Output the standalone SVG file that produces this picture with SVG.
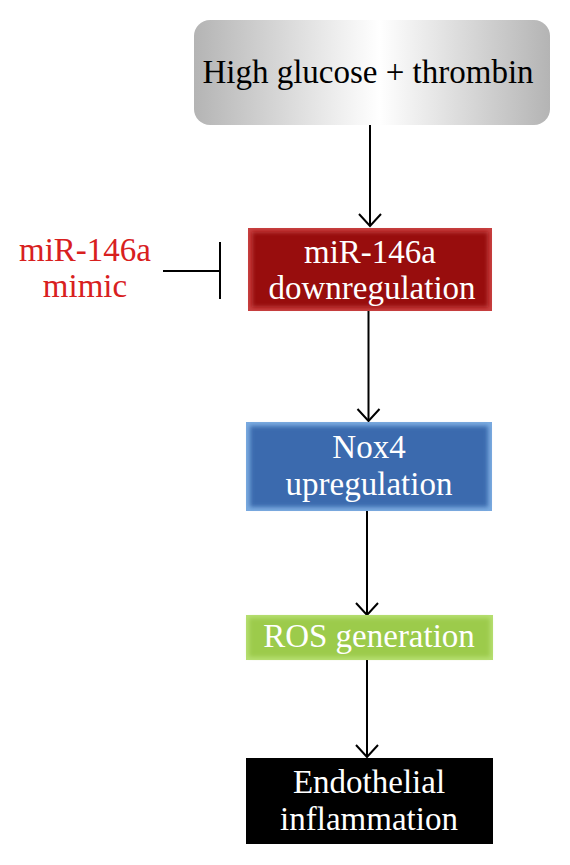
<svg xmlns="http://www.w3.org/2000/svg" width="570" height="865" viewBox="0 0 570 865">
<defs>
<linearGradient id="gray" x1="0" y1="0" x2="1" y2="0">
<stop offset="0" stop-color="#b4b4b4"/>
<stop offset="0.52" stop-color="#ffffff"/>
<stop offset="1" stop-color="#b4b4b4"/>
</linearGradient>
<filter id="soft" x="-5%" y="-10%" width="110%" height="120%"><feGaussianBlur stdDeviation="2"/></filter>
<marker id="v" markerUnits="userSpaceOnUse" markerWidth="16" markerHeight="26" refX="14" refY="13" orient="auto" viewBox="0 0 16 26">
<path d="M2,2 L14,13 L2,24" fill="none" stroke="#000" stroke-width="2"/>
</marker>
</defs>
<style>
.t{font-family:"Liberation Serif","Times New Roman",serif;font-size:33px;text-anchor:middle}
.w{fill:#ffffff}
.k{fill:#000000}
.r{fill:#d8201e}
.c{stroke:#000;stroke-width:2;fill:none}
</style>
<rect width="570" height="865" fill="#ffffff"/>
<g id="connectors">
<line class="c" x1="370" y1="125" x2="370" y2="226" marker-end="url(#v)"/>
<line class="c" x1="368.5" y1="311" x2="368.5" y2="421" marker-end="url(#v)"/>
<line class="c" x1="367" y1="511" x2="367" y2="615" marker-end="url(#v)"/>
<line class="c" x1="367" y1="660" x2="367" y2="757" marker-end="url(#v)"/>
<line class="c" x1="163" y1="271" x2="220" y2="271"/>
<line class="c" x1="220" y1="242" x2="220" y2="299"/>
</g>
<g id="node-top">
<rect x="194" y="20" width="356" height="105" rx="16" fill="url(#gray)"/>
<text class="t k" x="368" y="83">High glucose + thrombin</text>
</g>
<g id="node-mimic">
<text class="t r" x="85" y="261">miR-146a</text>
<text class="t r" x="85" y="297">mimic</text>
</g>
<g id="node-mir">
<rect x="248" y="228" width="244" height="83" fill="#c84040"/>
<rect x="252" y="232" width="236" height="75" fill="#980808" filter="url(#soft)"/>
<text class="t w" x="370" y="263">miR-146a</text>
<text class="t w" x="372" y="299">downregulation</text>
</g>
<g id="node-nox">
<rect x="246" y="422" width="246" height="89" fill="#7aaae0"/>
<rect x="250" y="426" width="238" height="81" fill="#3a6aae" filter="url(#soft)"/>
<text class="t w" x="369" y="458">Nox4</text>
<text class="t w" x="369" y="495">upregulation</text>
</g>
<g id="node-ros">
<rect x="246" y="615" width="247" height="45" fill="#b6df72"/>
<rect x="249" y="618" width="241" height="39" fill="#9ccb4c" filter="url(#soft)"/>
<text class="t w" x="369" y="647">ROS generation</text>
</g>
<g id="node-endo">
<rect x="246" y="758" width="247" height="86" fill="#000000"/>
<text class="t w" x="369" y="793">Endothelial</text>
<text class="t w" x="369" y="830">inflammation</text>
</g>
</svg>
